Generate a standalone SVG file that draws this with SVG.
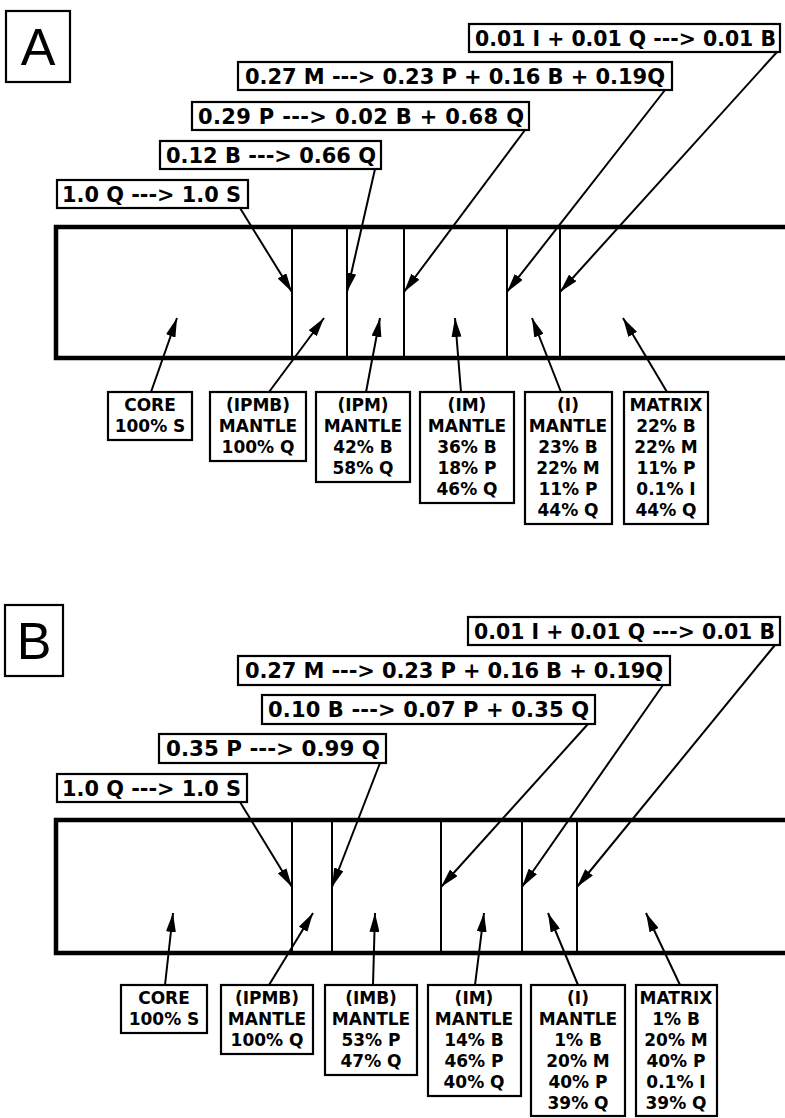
<svg xmlns="http://www.w3.org/2000/svg" width="785" height="1118" viewBox="0 0 785 1118">
<style>
.bx{fill:none;stroke:#000;stroke-width:2.2}
.band{fill:none;stroke:#000;stroke-width:4.5}
.div{stroke:#000;stroke-width:2}
.rx{font-family:"DejaVu Sans","Liberation Sans",sans-serif;font-weight:bold;font-size:21px;fill:#000}
.lb{font-family:"DejaVu Sans","Liberation Sans",sans-serif;font-weight:bold;font-size:17px;fill:#000;text-anchor:middle}
.big{font-family:"Liberation Sans","DejaVu Sans",sans-serif;font-size:52px;fill:#000;text-anchor:middle}
.ar{stroke:#000;stroke-width:2;fill:none;marker-end:url(#ah)}
</style>
<defs>
<marker id="ah" viewBox="0 0 19 10" refX="19" refY="5" markerWidth="19" markerHeight="10" orient="auto" markerUnits="userSpaceOnUse"><path d="M0,0 L19,5 L0,10 z" fill="#000"/></marker>
</defs>
<rect width="785" height="1118" fill="#fff"/>

<!-- Panel A -->
<g id="labelA"><rect class="bx" x="6" y="11" width="64" height="71"/><text class="big" x="38" y="65">A</text></g>
<g id="bandA">
<path class="band" d="M785,227 H56 V358 H785"/>
<line class="div" x1="292" y1="227" x2="292" y2="358"/>
<line class="div" x1="347" y1="227" x2="347" y2="358"/>
<line class="div" x1="404" y1="227" x2="404" y2="358"/>
<line class="div" x1="507" y1="227" x2="507" y2="358"/>
<line class="div" x1="560" y1="227" x2="560" y2="358"/>
</g>
<g id="rA1"><rect class="bx" x="469" y="24" width="311" height="28"/><text class="rx" x="475" y="46" textLength="301" lengthAdjust="spacingAndGlyphs">0.01 I + 0.01 Q ---&gt; 0.01 B</text></g>
<g id="rA2"><rect class="bx" x="238" y="62" width="434" height="28"/><text class="rx" x="245" y="84" textLength="420">0.27 M ---&gt; 0.23 P + 0.16 B + 0.19Q</text></g>
<g id="rA3"><rect class="bx" x="192" y="102" width="337" height="28"/><text class="rx" x="198" y="124" textLength="326">0.29 P ---&gt; 0.02 B + 0.68 Q</text></g>
<g id="rA4"><rect class="bx" x="160" y="141" width="221" height="28"/><text class="rx" x="166" y="163" textLength="210" lengthAdjust="spacingAndGlyphs">0.12 B ---&gt; 0.66 Q</text></g>
<g id="rA5"><rect class="bx" x="57" y="180" width="191" height="28"/><text class="rx" x="62" y="202" textLength="179" lengthAdjust="spacingAndGlyphs">1.0 Q ---&gt; 1.0 S</text></g>

<g id="nA1"><rect class="bx" x="108" y="392" width="84" height="48"/><text class="lb" x="150" y="411">CORE</text><text class="lb" x="150" y="432">100% S</text></g>
<g id="nA2"><rect class="bx" x="210" y="392" width="96" height="69"/><text class="lb" x="258" y="411">(IPMB)</text><text class="lb" x="258" y="432">MANTLE</text><text class="lb" x="258" y="453">100% Q</text></g>
<g id="nA3"><rect class="bx" x="316" y="392" width="94" height="90"/><text class="lb" x="363" y="411">(IPM)</text><text class="lb" x="363" y="432">MANTLE</text><text class="lb" x="363" y="453">42% B</text><text class="lb" x="363" y="474">58% Q</text></g>
<g id="nA4"><rect class="bx" x="420" y="392" width="94" height="111"/><text class="lb" x="467" y="411">(IM)</text><text class="lb" x="467" y="432">MANTLE</text><text class="lb" x="467" y="453">36% B</text><text class="lb" x="467" y="474">18% P</text><text class="lb" x="467" y="495">46% Q</text></g>
<g id="nA5"><rect class="bx" x="525" y="392" width="87" height="132"/><text class="lb" x="568" y="411">(I)</text><text class="lb" x="568" y="432">MANTLE</text><text class="lb" x="568" y="453">23% B</text><text class="lb" x="568" y="474">22% M</text><text class="lb" x="568" y="495">11% P</text><text class="lb" x="568" y="516">44% Q</text></g>
<g id="nA6"><rect class="bx" x="624" y="392" width="84" height="132"/><text class="lb" x="666" y="411">MATRIX</text><text class="lb" x="666" y="432">22% B</text><text class="lb" x="666" y="453">22% M</text><text class="lb" x="666" y="474">11% P</text><text class="lb" x="666" y="495">0.1% I</text><text class="lb" x="666" y="516">44% Q</text></g>

<!-- Panel B -->
<g id="labelB"><rect class="bx" x="5" y="605" width="58" height="71"/><text class="big" x="34" y="659">B</text></g>
<g id="bandB">
<path class="band" d="M785,820 H56 V953 H785"/>
<line class="div" x1="292" y1="820" x2="292" y2="953"/>
<line class="div" x1="332" y1="820" x2="332" y2="953"/>
<line class="div" x1="441" y1="820" x2="441" y2="953"/>
<line class="div" x1="522" y1="820" x2="522" y2="953"/>
<line class="div" x1="577" y1="820" x2="577" y2="953"/>
</g>
<g id="rB1"><rect class="bx" x="468" y="617" width="312" height="28"/><text class="rx" x="474" y="639" textLength="301" lengthAdjust="spacingAndGlyphs">0.01 I + 0.01 Q ---&gt; 0.01 B</text></g>
<g id="rB2"><rect class="bx" x="238" y="656" width="432" height="29"/><text class="rx" x="245" y="678" textLength="418">0.27 M ---&gt; 0.23 P + 0.16 B + 0.19Q</text></g>
<g id="rB3"><rect class="bx" x="262" y="695" width="333" height="29"/><text class="rx" x="268" y="717" textLength="321">0.10 B ---&gt; 0.07 P + 0.35 Q</text></g>
<g id="rB4"><rect class="bx" x="159" y="734" width="227" height="29"/><text class="rx" x="166" y="756" textLength="214" lengthAdjust="spacingAndGlyphs">0.35 P ---&gt; 0.99 Q</text></g>
<g id="rB5"><rect class="bx" x="57" y="774" width="190" height="28"/><text class="rx" x="62" y="796" textLength="179" lengthAdjust="spacingAndGlyphs">1.0 Q ---&gt; 1.0 S</text></g>

<g id="nB1"><rect class="bx" x="121" y="985" width="86" height="48"/><text class="lb" x="164" y="1004">CORE</text><text class="lb" x="164" y="1025">100% S</text></g>
<g id="nB2"><rect class="bx" x="221" y="985" width="92" height="69"/><text class="lb" x="267" y="1004">(IPMB)</text><text class="lb" x="267" y="1025">MANTLE</text><text class="lb" x="267" y="1046">100% Q</text></g>
<g id="nB3"><rect class="bx" x="325" y="985" width="92" height="90"/><text class="lb" x="371" y="1004">(IMB)</text><text class="lb" x="371" y="1025">MANTLE</text><text class="lb" x="371" y="1046">53% P</text><text class="lb" x="371" y="1067">47% Q</text></g>
<g id="nB4"><rect class="bx" x="428" y="985" width="93" height="111"/><text class="lb" x="474" y="1004">(IM)</text><text class="lb" x="474" y="1025">MANTLE</text><text class="lb" x="474" y="1046">14% B</text><text class="lb" x="474" y="1067">46% P</text><text class="lb" x="474" y="1088">40% Q</text></g>
<g id="nB5"><rect class="bx" x="531" y="985" width="94" height="131"/><text class="lb" x="578" y="1004">(I)</text><text class="lb" x="578" y="1025">MANTLE</text><text class="lb" x="578" y="1046">1% B</text><text class="lb" x="578" y="1067">20% M</text><text class="lb" x="578" y="1088">40% P</text><text class="lb" x="578" y="1109">39% Q</text></g>
<g id="nB6"><rect class="bx" x="636" y="985" width="81" height="131"/><text class="lb" x="676" y="1004">MATRIX</text><text class="lb" x="676" y="1025">1% B</text><text class="lb" x="676" y="1046">20% M</text><text class="lb" x="676" y="1067">40% P</text><text class="lb" x="676" y="1088">0.1% I</text><text class="lb" x="676" y="1109">39% Q</text></g>

<g id="connectors">
<line class="ar" x1="240" y1="208" x2="292" y2="292"/>
<line class="ar" x1="375" y1="169" x2="347" y2="292"/>
<line class="ar" x1="525" y1="130" x2="404" y2="292"/>
<line class="ar" x1="665" y1="90" x2="507" y2="292"/>
<line class="ar" x1="777" y1="52" x2="560" y2="292"/>
<line class="ar" x1="151" y1="392" x2="177" y2="318"/>
<line class="ar" x1="269" y1="392" x2="324" y2="318"/>
<line class="ar" x1="366" y1="392" x2="380" y2="318"/>
<line class="ar" x1="461" y1="392" x2="455" y2="318"/>
<line class="ar" x1="561" y1="392" x2="532" y2="318"/>
<line class="ar" x1="667" y1="392" x2="623" y2="318"/>
<line class="ar" x1="240" y1="802" x2="292" y2="887"/>
<line class="ar" x1="380" y1="763" x2="332" y2="887"/>
<line class="ar" x1="588" y1="724" x2="441" y2="887"/>
<line class="ar" x1="663" y1="685" x2="522" y2="887"/>
<line class="ar" x1="775" y1="645" x2="577" y2="887"/>
<line class="ar" x1="165" y1="985" x2="173" y2="913"/>
<line class="ar" x1="269" y1="985" x2="313" y2="913"/>
<line class="ar" x1="373" y1="985" x2="375" y2="913"/>
<line class="ar" x1="475" y1="985" x2="484" y2="913"/>
<line class="ar" x1="578" y1="985" x2="548" y2="913"/>
<line class="ar" x1="680" y1="985" x2="646" y2="913"/>
</g>
</svg>
